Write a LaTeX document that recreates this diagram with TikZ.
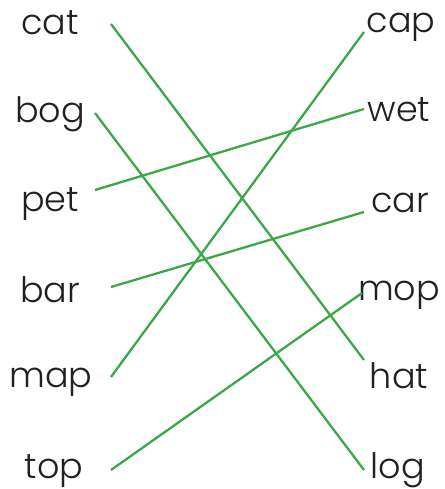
\documentclass[tikz,border=0pt]{standalone}
\usepackage{fontspec}
\setmainfont{Poppins}[UprightFont=* Light]
\definecolor{ink}{HTML}{231F20}
\definecolor{lgreen}{HTML}{3AA845}
\begin{document}
\begin{tikzpicture}[x=1pt,y=-1pt,
  word/.style={anchor=base,inner sep=0pt,text=ink,font=\fontsize{35}{37}\selectfont},
  link/.style={draw=lgreen,line width=2.3pt}]
\useasboundingbox (0,0) rectangle (444,489);
% left words
\node[word] (cat) at (50,35) {cat};
\node[word] (bog) at (50,123) {bog};
\node[word] (pet) at (50,211) {pet};
\node[word] (bar) at (50,302) {bar};
\node[word] (map) at (51,387) {map};
\node[word] (top) at (54,478) {top};
% right words
\node[word] (cap) at (401,33) {cap};
\node[word] (wet) at (399,122) {wet};
\node[word] (car) at (400,212) {car};
\node[word] (mop) at (399,300) {mop};
\node[word] (hat) at (399,388) {hat};
\node[word] (log) at (398,478) {log};
% connector ends
\coordinate (catE) at (111,24);
\coordinate (bogE) at (95,113);
\coordinate (petE) at (95,190);
\coordinate (barE) at (111,287);
\coordinate (mapE) at (111,377);
\coordinate (topE) at (111,470);
\coordinate (capW) at (364,32);
\coordinate (wetW) at (364,109);
\coordinate (carW) at (364,212);
\coordinate (mopW) at (362,293);
\coordinate (hatW) at (364,360);
\coordinate (logW) at (364,470);
\draw[link] (catE) -- (hatW);
\draw[link] (bogE) -- (logW);
\draw[link] (petE) -- (wetW);
\draw[link] (barE) -- (carW);
\draw[link] (mapE) -- (capW);
\draw[link] (topE) -- (mopW);
\end{tikzpicture}
\end{document}
